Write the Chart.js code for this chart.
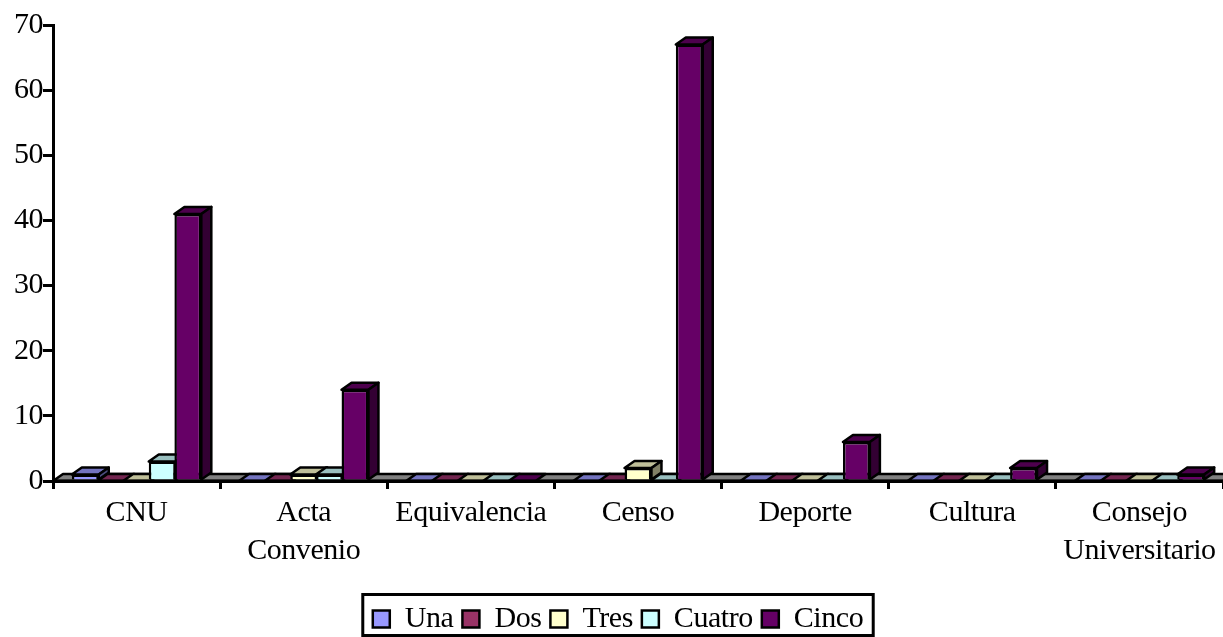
<!DOCTYPE html>
<html>
<head>
<meta charset="utf-8">
<style>
  html, body { margin: 0; padding: 0; background: #fff; }
  canvas { display: block; }
</style>
<script src="https://cdn.jsdelivr.net/npm/chart.js@4"></script>
</head>
<body>
<canvas id="myChart" width="1223" height="637"></canvas>
<script>
const categories = ['CNU', ['Acta', 'Convenio'], 'Equivalencia', 'Censo', 'Deporte', 'Cultura', ['Consejo', 'Universitario']];

const una = [1, 0, 0, 0, 0, 0, 0];
const dos = [0, 0, 0, 0, 0, 0, 0];
const tres = [0, 1, 0, 2, 0, 0, 0];
const cuatro = [3, 1, 0, 0, 0, 0, 0];
const cinco = [41, 14, 0, 67, 6, 2, 1];

const seriesNames = ['Una', 'Dos', 'Tres', 'Cuatro', 'Cinco'];
const seriesValues = [una, dos, tres, cuatro, cinco];
const frontColors = ['#9999ff', '#993366', '#ffffcc', '#ccffff', '#660066'];
const topColors = ['#7373bf', '#732650', '#bfbf99', '#99bfbf', '#4d004d'];
const sideColors = ['#4d4d80', '#4d1a33', '#808066', '#668080', '#330033'];

const depthX = 10;
const depthY = 7;
const serif = '"Liberation Serif", "Times New Roman", serif';

function face(ctx, points, fill) {
  ctx.beginPath();
  points.forEach((p, i) => i ? ctx.lineTo(p[0], p[1]) : ctx.moveTo(p[0], p[1]));
  ctx.closePath();
  ctx.fillStyle = fill;
  ctx.fill();
  ctx.stroke();
}

// the reference type is set tight, canvas keeps this through chart.js save/restore
const tightText = {
  id: 'tightText',
  beforeLayout(chart) { chart.ctx.letterSpacing = '-0.45px'; },
  beforeDraw(chart) { chart.ctx.letterSpacing = '-0.45px'; }
};

// fake 3d: floor, plus the top and side of every bar, under the flat bars
const depthPlugin = {
  id: 'depth',
  beforeDatasetsDraw(chart) {
    const ctx = chart.ctx;
    const area = chart.chartArea;
    const y0 = chart.scales.y.getPixelForValue(0);
    ctx.save();
    ctx.strokeStyle = '#000';
    ctx.lineWidth = 2.5;
    ctx.lineJoin = 'round';
    face(ctx, [[area.left, y0], [area.left + depthX, y0 - depthY], [area.right + depthX, y0 - depthY], [area.right, y0]], '#808080');
    seriesValues.forEach((values, s) => {
      chart.getDatasetMeta(s).data.forEach((bar) => {
        const b = bar.getProps(['x', 'y', 'base', 'width'], true);
        const l = b.x - b.width / 2;
        const r = b.x + b.width / 2;
        face(ctx, [[l, b.y], [l + depthX, b.y - depthY], [r + depthX, b.y - depthY], [r, b.y]], topColors[s]);
        if (b.base - b.y > 1) {
          face(ctx, [[r, b.y], [r + depthX, b.y - depthY], [r + depthX, b.base - depthY], [r, b.base]], sideColors[s]);
        }
      });
    });
    ctx.restore();
  },
  afterDatasetsDraw(chart) {
    const ctx = chart.ctx;
    const area = chart.chartArea;
    const y0 = chart.scales.y.getPixelForValue(0);
    ctx.save();
    ctx.strokeStyle = '#000';
    ctx.lineWidth = 3;
    ctx.beginPath();
    ctx.moveTo(area.left, y0);
    ctx.lineTo(area.right, y0);
    ctx.stroke();
    ctx.restore();
  }
};

// border round the legend
const legendBox = {
  id: 'legendBox',
  afterDraw(chart) {
    const boxes = chart.legend.legendHitBoxes;
    const ctx = chart.ctx;
    const last = boxes[boxes.length - 1];
    const left = boxes[0].left - 10;
    const right = last.left + last.width + 10;
    ctx.save();
    ctx.strokeStyle = '#000';
    ctx.lineWidth = 3;
    ctx.strokeRect(left, 594.5, right - left, 41);
    ctx.restore();
  }
};

new Chart(document.getElementById('myChart'), {
  type: 'bar',
  data: {
    labels: categories,
    datasets: seriesNames.map((name, s) => ({
      label: name,
      data: seriesValues[s],
      backgroundColor: frontColors[s],
      borderColor: '#000',
      borderWidth: 2.5,
      borderSkipped: 'bottom',
      barPercentage: 1.05,
      categoryPercentage: 0.767
    }))
  },
  options: {
    responsive: false,
    animation: false,
    layout: { padding: { left: 13, top: 25, bottom: -7, right: 0 } },
    plugins: {
      title: { display: false },
      tooltip: { enabled: false },
      legend: {
        position: 'bottom',
        labels: {
          color: '#000',
          font: { family: serif, size: 30 },
          boxWidth: 17,
          boxHeight: 17,
          padding: 9
        }
      }
    },
    scales: {
      x: {
        afterFit(scale) { scale.height = 114; },
        border: { color: '#000', width: 3 },
        grid: { drawOnChartArea: false, color: '#000', lineWidth: 3, tickLength: 8 },
        ticks: { color: '#000', maxRotation: 0, autoSkip: false, padding: 5, font: { family: serif, size: 30, lineHeight: 1.27 } }
      },
      y: {
        min: 0,
        max: 70,
        afterFit(scale) { scale.width = 40; },
        border: { color: '#000', width: 3 },
        grid: { drawOnChartArea: false, color: '#000', lineWidth: 3, tickLength: 10 },
        ticks: { stepSize: 10, color: '#000', padding: 0, font: { family: serif, size: 30 } }
      }
    }
  },
  plugins: [tightText, depthPlugin, legendBox]
});
</script>
</body>
</html>
